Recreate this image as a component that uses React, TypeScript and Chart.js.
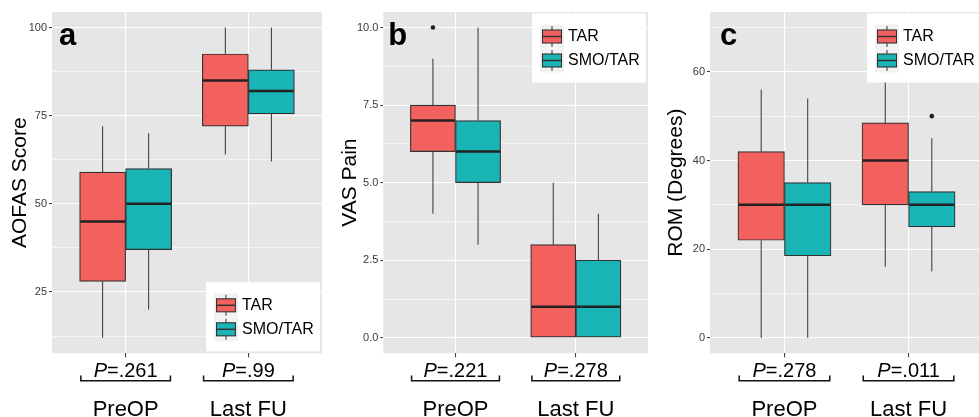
import React, { useEffect, useRef } from 'react';
import { Chart, registerables } from 'chart.js';

Chart.register(...registerables);

const FONT = "'Liberation Sans', Arial, Helvetica, sans-serif";

const categories = ['PreOP', 'Last FU'];
const groupNames = ['TAR', 'SMO/TAR'];
const groupColors = ['#F2615D', '#19B4B6'];

// five-number summaries per category: [lower whisker, Q1, median, Q3, upper whisker]
const aofasTAR = [[12, 28, 45, 59, 72], [64, 72, 85, 92.5, 100]];
const aofasSMO = [[20, 37, 50, 60, 70], [62, 75.5, 82, 88, 100]];
const vasTAR = [[4, 6, 7, 7.5, 9], [0, 0, 1, 3, 5]];
const vasSMO = [[3, 5, 6, 7, 10], [0, 0, 1, 2.5, 4]];
const romTAR = [[0, 22, 30, 42, 56], [16, 30, 40, 48.5, 70]];
const romSMO = [[0, 18.5, 30, 35, 54], [15, 25, 30, 33, 45]];

// outliers per category
const aofasOutTAR: number[][] = [[], []];
const aofasOutSMO: number[][] = [[], []];
const vasOutTAR: number[][] = [[10], []];
const vasOutSMO: number[][] = [[], []];
const romOutTAR: number[][] = [[], []];
const romOutSMO: number[][] = [[], [50]];

const aofasP = ['.261', '.99'];
const vasP = ['.221', '.278'];
const romP = ['.278', '.011'];

const aofasTicks = [25, 50, 75, 100];
const aofasTickLabels = ['25', '50', '75', '100'];
const vasTicks = [0, 2.5, 5, 7.5, 10];
const vasTickLabels = ['0.0', '2.5', '5.0', '7.5', '10.0'];
const romTicks = [0, 20, 40, 60];
const romTickLabels = ['0', '20', '40', '60'];

const W = 330;
const H = 417;
const PLOT_TOP = 12;
const PLOT_BOTTOM = 353.3;
const DODGE = 0.1875;

type PanelSpec = {
  letter: string;
  yTitle: string;
  tar: number[][];
  smo: number[][];
  outTar: number[][];
  outSmo: number[][];
  pVals: string[];
  ticks: number[];
  tickLabels: string[];
  left: number;
  plotLeft: number;
  plotRight: number;
  titleX: number;
  letterDx: number;
  legendPos: 'bottom' | 'top';
};

const panels: PanelSpec[] = [
  { letter: 'a', yTitle: 'AOFAS Score', tar: aofasTAR, smo: aofasSMO, outTar: aofasOutTAR, outSmo: aofasOutSMO, pVals: aofasP, ticks: aofasTicks, tickLabels: aofasTickLabels, left: 0, plotLeft: 52, plotRight: 322, titleX: 20, letterDx: 7, legendPos: 'bottom' },
  { letter: 'b', yTitle: 'VAS Pain', tar: vasTAR, smo: vasSMO, outTar: vasOutTAR, outSmo: vasOutSMO, pVals: vasP, ticks: vasTicks, tickLabels: vasTickLabels, left: 330, plotLeft: 383.3, plotRight: 648, titleX: 350, letterDx: 5, legendPos: 'top' },
  { letter: 'c', yTitle: 'ROM (Degrees)', tar: romTAR, smo: romSMO, outTar: romOutTAR, outSmo: romOutSMO, pVals: romP, ticks: romTicks, tickLabels: romTickLabels, left: 660, plotLeft: 710, plotRight: 983, titleX: 676.7, letterDx: 10, legendPos: 'top' },
];

function makeConfig(p: PanelSpec): any {
  const all: number[] = [];
  [p.tar, p.smo].forEach((g) => g.forEach((s) => all.push(s[0], s[4])));
  [p.outTar, p.outSmo].forEach((g) => g.forEach((o) => all.push(...o)));
  const lo = Math.min(...all);
  const hi = Math.max(...all);
  const pad = (hi - lo) * 0.05;
  const yMin = lo - pad;
  const yMax = hi + pad;

  const step = p.ticks[1] - p.ticks[0];
  let v0 = p.ticks[0] - step / 2;
  while (v0 - step >= yMin) v0 -= step;
  const minor: number[] = [];
  for (let v = v0; v <= yMax; v += step) if (v >= yMin) minor.push(v);
  const allTicks = [...p.ticks, ...minor].sort((a, b) => a - b);
  const isMajor = (v: number) => p.ticks.some((t) => Math.abs(t - v) < 1e-9);

  const outliers: { x: number; y: number }[] = [];
  p.outTar.forEach((o, i) => o.forEach((y) => outliers.push({ x: i + 1 - DODGE, y })));
  p.outSmo.forEach((o, i) => o.forEach((y) => outliers.push({ x: i + 1 + DODGE, y })));

  const boxDataset = (stats: number[][], sign: number, gi: number) => ({
    type: 'bar',
    label: groupNames[gi],
    data: stats.map((s, i) => ({ x: i + 1 + sign * DODGE, y: [s[1], s[3]] })),
    backgroundColor: groupColors[gi],
    borderColor: '#333333',
    borderWidth: 1.2,
    borderSkipped: false,
    grouped: false,
    barPercentage: 1,
    categoryPercentage: 1,
    stats,
  });

  const localLeft = p.plotLeft - p.left;
  const localRight = p.plotRight - p.left;

  const decoPlugin = {
    id: 'deco' + p.letter,
    beforeDraw(chart: any) {
      const { ctx, chartArea: ca } = chart;
      ctx.save();
      ctx.fillStyle = '#E6E6E6';
      ctx.fillRect(ca.left, ca.top, ca.right - ca.left, ca.bottom - ca.top);
      ctx.restore();
    },
    beforeDatasetsDraw(chart: any) {
      const { ctx } = chart;
      const ys = chart.scales.y;
      ctx.save();
      ctx.strokeStyle = '#333333';
      ctx.lineWidth = 1;
      chart.data.datasets.forEach((ds: any, di: number) => {
        if (!ds.stats) return;
        const meta = chart.getDatasetMeta(di);
        ds.stats.forEach((s: number[], i: number) => {
          const el = meta.data[i];
          if (!el) return;
          const x = el.x;
          ctx.beginPath();
          ctx.moveTo(x, ys.getPixelForValue(s[3]));
          ctx.lineTo(x, ys.getPixelForValue(s[4]));
          ctx.moveTo(x, ys.getPixelForValue(s[1]));
          ctx.lineTo(x, ys.getPixelForValue(s[0]));
          ctx.stroke();
        });
      });
      ctx.restore();
    },
    afterDatasetsDraw(chart: any) {
      const { ctx } = chart;
      const ys = chart.scales.y;
      ctx.save();
      ctx.strokeStyle = '#222222';
      ctx.lineWidth = 2.5;
      chart.data.datasets.forEach((ds: any, di: number) => {
        if (!ds.stats) return;
        const meta = chart.getDatasetMeta(di);
        ds.stats.forEach((s: number[], i: number) => {
          const el = meta.data[i];
          if (!el) return;
          const y = ys.getPixelForValue(s[2]);
          ctx.beginPath();
          ctx.moveTo(el.x - el.width / 2 + 0.6, y);
          ctx.lineTo(el.x + el.width / 2 - 0.6, y);
          ctx.stroke();
        });
      });
      ctx.restore();
    },
    afterDraw(chart: any) {
      const { ctx, chartArea: ca } = chart;
      const xs = chart.scales.x;
      ctx.save();
      // panel letter
      ctx.fillStyle = '#000';
      ctx.font = `bold 31px ${FONT}`;
      ctx.textBaseline = 'alphabetic';
      ctx.textAlign = 'left';
      ctx.fillText(p.letter, ca.left + p.letterDx, 44.5);

      // legend
      const LW = 114;
      const LH = 69;
      const rx = ca.right - 2 - LW;
      const ry = p.legendPos === 'bottom' ? ca.bottom - 2 - LH : ca.top + 1.5;
      ctx.fillStyle = '#FFFFFF';
      ctx.fillRect(rx, ry, LW, LH);
      groupNames.forEach((name, g) => {
        const kx = rx + 8;
        const ky = ry + 11 + g * 24;
        ctx.fillStyle = '#F2F2F2';
        ctx.fillRect(kx, ky, 24, 24);
        ctx.strokeStyle = '#333333';
        ctx.lineWidth = 1;
        ctx.beginPath();
        ctx.moveTo(kx + 12, ky + 1.5);
        ctx.lineTo(kx + 12, ky + 22.5);
        ctx.stroke();
        ctx.fillStyle = groupColors[g];
        ctx.fillRect(kx + 2.5, ky + 5.5, 19, 13);
        ctx.lineWidth = 1.1;
        ctx.strokeRect(kx + 2.5, ky + 5.5, 19, 13);
        ctx.lineWidth = 1.5;
        ctx.beginPath();
        ctx.moveTo(kx + 2.5, ky + 12);
        ctx.lineTo(kx + 21.5, ky + 12);
        ctx.stroke();
        ctx.fillStyle = '#000';
        ctx.font = `16px ${FONT}`;
        ctx.textBaseline = 'middle';
        ctx.textAlign = 'left';
        ctx.fillText(name, kx + 28, ky + 12.5);
      });

      // P values, brackets, category names
      categories.forEach((cat, i) => {
        const cx = xs.getPixelForValue(i + 1);
        const half = xs.getPixelForValue(i + 1.365) - cx;
        ctx.textBaseline = 'alphabetic';
        ctx.textAlign = 'left';
        ctx.fillStyle = '#000';
        ctx.font = `italic 20px ${FONT}`;
        const w1 = ctx.measureText('P').width;
        ctx.font = `20px ${FONT}`;
        const rest = '=' + p.pVals[i];
        const w2 = ctx.measureText(rest).width;
        const sx = cx - (w1 + w2) / 2;
        ctx.font = `italic 20px ${FONT}`;
        ctx.fillText('P', sx, 376.5);
        ctx.font = `20px ${FONT}`;
        ctx.fillText(rest, sx + w1, 376.5);

        ctx.strokeStyle = '#111';
        ctx.lineWidth = 1.5;
        ctx.beginPath();
        ctx.moveTo(cx - half, 375.5);
        ctx.lineTo(cx - half, 380.7);
        ctx.lineTo(cx + half, 380.7);
        ctx.lineTo(cx + half, 375.5);
        ctx.stroke();

        ctx.font = `22px ${FONT}`;
        ctx.textAlign = 'center';
        ctx.fillText(cat, cx, 416);
      });
      ctx.restore();
    },
  };

  return {
    type: 'bar',
    data: {
      datasets: [
        boxDataset(p.tar, -1, 0),
        boxDataset(p.smo, 1, 1),
        {
          type: 'scatter',
          label: 'outliers',
          data: outliers,
          pointRadius: 2.3,
          pointHoverRadius: 2.3,
          pointBackgroundColor: '#222222',
          pointBorderWidth: 0,
          borderWidth: 0,
        },
      ],
    },
    options: {
      responsive: false,
      animation: false,
      devicePixelRatio: 1,
      layout: { padding: { left: 0, right: W - localRight, top: PLOT_TOP, bottom: 0 } },
      plugins: { legend: { display: false }, tooltip: { enabled: false } },
      scales: {
        x: {
          type: 'linear',
          min: 0.4,
          max: 2.6,
          bounds: 'data',
          offset: false,
          afterBuildTicks: (s: any) => {
            s.ticks = categories.map((_, i) => ({ value: i + 1 }));
          },
          ticks: { callback: () => '', autoSkip: false },
          grid: { offset: false, color: '#FFFFFF', lineWidth: 1.1, tickColor: '#333333', tickLength: 4, tickWidth: 1 },
          border: { display: false },
          afterFit: (s: any) => {
            s.height = H - PLOT_BOTTOM;
          },
        },
        y: {
          type: 'linear',
          min: yMin,
          max: yMax,
          bounds: 'data',
          afterBuildTicks: (s: any) => {
            s.ticks = allTicks.map((v) => ({ value: v }));
          },
          ticks: {
            autoSkip: false,
            padding: 2,
            color: '#3a3a3a',
            font: { family: FONT, size: 11 },
            callback: (v: number) => {
              const k = p.ticks.findIndex((t) => Math.abs(t - v) < 1e-9);
              return k >= 0 ? p.tickLabels[k] : '';
            },
          },
          grid: {
            color: '#FFFFFF',
            lineWidth: (c: any) => (c.tick && isMajor(c.tick.value) ? 1.1 : 0.55),
            tickColor: (c: any) => (c.tick && isMajor(c.tick.value) ? '#333333' : 'rgba(0,0,0,0)'),
            tickLength: 3,
            tickWidth: 1,
          },
          border: { display: false },
          title: {
            display: true,
            text: p.yTitle,
            color: '#000',
            font: { family: FONT, size: 21, lineHeight: 1.2 },
            padding: { top: p.titleX - p.left - 12.6, bottom: 0 },
          },
          afterFit: (s: any) => {
            s.width = localLeft;
          },
        },
      },
    },
    plugins: [decoPlugin],
  };
}

function Panel({ spec }: { spec: PanelSpec }) {
  const ref = useRef<HTMLCanvasElement>(null);
  useEffect(() => {
    if (!ref.current) return;
    const chart = new Chart(ref.current, makeConfig(spec));
    return () => chart.destroy();
  }, [spec]);
  return (
    <canvas
      ref={ref}
      width={W}
      height={H}
      style={{ position: 'absolute', left: spec.left, top: 0, width: W, height: H }}
    />
  );
}

export default function App() {
  return (
    <div style={{ position: 'fixed', left: 0, top: 0, width: 979, height: 417, overflow: 'hidden', background: '#FFFFFF' }}>
      {panels.map((p) => (
        <Panel key={p.letter} spec={p} />
      ))}
    </div>
  );
}
